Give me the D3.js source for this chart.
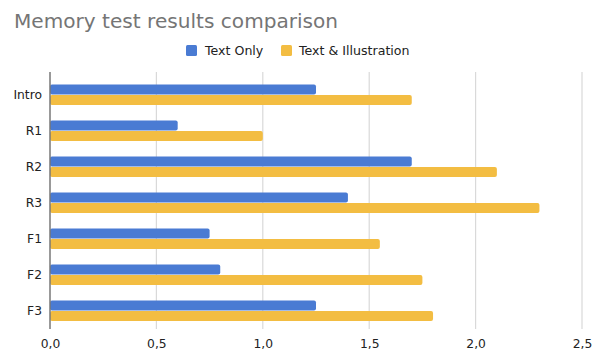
<!DOCTYPE html>
<html><head><meta charset="utf-8">
<script src="https://cdn.jsdelivr.net/npm/d3@7"></script>
<style>body{margin:0;background:#fff}svg{display:block}</style>
</head><body>
<svg id="c" width="592" height="351"></svg>
<script>
const categories = ["Intro","R1","R2","R3","F1","F2","F3"];
const seriesNames = ["Text Only","Text & Illustration"];
const textOnly = [1.25,0.60,1.70,1.40,0.75,0.80,1.25];
const textIllus = [1.70,1.00,2.10,2.30,1.55,1.75,1.80];
const xTicks = [0,0.5,1.0,1.5,2.0,2.5];
const colors = ["#4a7bd3","#f3bd42"];

const svg = d3.select("#c");
const font = "DejaVu Sans, Verdana, sans-serif";
const x = d3.scaleLinear().domain([0,2.5]).range([50,582]);
const y = d3.scaleBand().domain(categories).range([77,329]);
const sub = d3.scaleBand().domain([0,1]).range([0,21]);
const barH = 10;

svg.append("text").attr("x",14).attr("y",28).attr("font-family",font).attr("font-size",20.1)
  .attr("fill","#757575").text("Memory test results comparison");

// legend
const leg = [{x:186,tx:205},{x:281,tx:299}];
leg.forEach((l,i)=>{
  svg.append("rect").attr("x",l.x).attr("y",45).attr("width",11).attr("height",11).attr("rx",1.5).attr("fill",colors[i]);
  svg.append("text").attr("x",l.tx).attr("y",55).attr("font-family",font).attr("font-size",12.6).attr("fill","#222").text(seriesNames[i]);
});

// grid
svg.append("g").selectAll("line").data(xTicks.slice(1)).join("line")
  .attr("x1",d=>x(d)).attr("x2",d=>x(d)).attr("y1",72).attr("y2",329)
  .attr("stroke","#d9d9d9").attr("stroke-width",1.2);

const xAxis = svg.append("g").attr("transform","translate(0,329)")
  .call(d3.axisBottom(x).tickValues(xTicks).tickSize(0).tickPadding(10)
    .tickFormat(d=>d3.format(".1f")(d).replace(".",",")));
xAxis.select(".domain").remove();
xAxis.selectAll("text").attr("font-family",font).attr("font-size",12.3).attr("fill","#222");

const yAxis = svg.append("g").attr("transform","translate(50,0)")
  .call(d3.axisLeft(y).tickSize(0).tickPadding(8));
yAxis.select(".domain").remove();
yAxis.selectAll("text").attr("font-family",font).attr("font-size",12.3).attr("fill","#222").attr("dy","0.35em");

const data = [textOnly,textIllus];
data.forEach((vals,si)=>{
  svg.append("g").selectAll("rect").data(vals).join("rect")
    .attr("x",x(0)).attr("y",(d,i)=>y(categories[i])+7.5+sub(si))
    .attr("width",d=>x(d)-x(0)).attr("height",barH).attr("rx",2)
    .attr("fill",colors[si]);
});

svg.append("line").attr("x1",50).attr("x2",50).attr("y1",72).attr("y2",329)
  .attr("stroke","#777").attr("stroke-width",1.5);
</script>
</body></html>
